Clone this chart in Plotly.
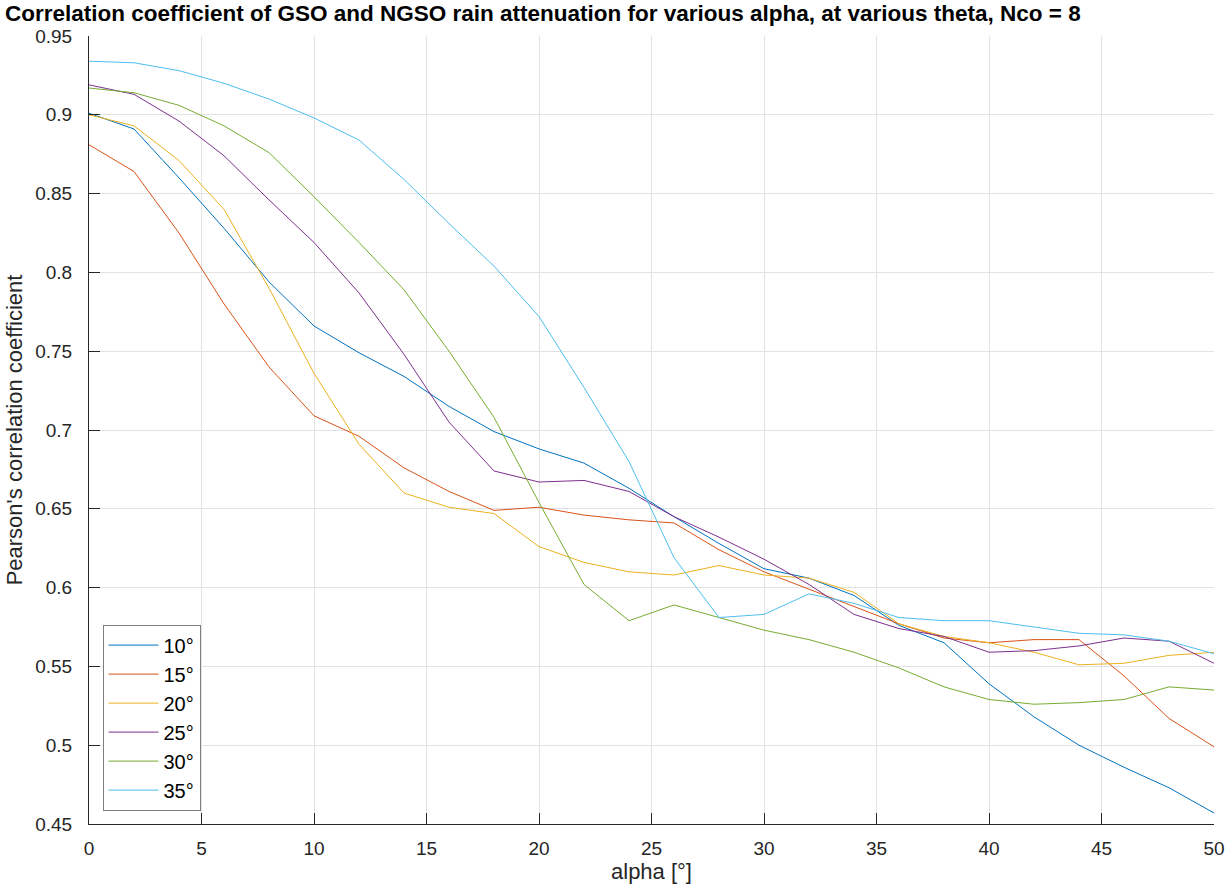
import plotly.graph_objects as go

alpha = list(range(0, 51, 2))

theta_labels = ["10°", "15°", "20°", "25°", "30°", "35°"]

rho_10 = [0.901, 0.891, 0.860, 0.828, 0.794, 0.766, 0.749, 0.734, 0.715, 0.699, 0.688, 0.679,
          0.663, 0.645, 0.628, 0.612, 0.606, 0.595, 0.576, 0.565, 0.539, 0.518, 0.500, 0.486,
          0.473, 0.457]
rho_15 = [0.881, 0.864, 0.825, 0.780, 0.740, 0.709, 0.696, 0.676, 0.661, 0.649, 0.651, 0.646,
          0.643, 0.641, 0.624, 0.610, 0.599, 0.588, 0.577, 0.568, 0.565, 0.567, 0.567, 0.544,
          0.517, 0.499]
rho_20 = [0.900, 0.893, 0.871, 0.840, 0.790, 0.736, 0.691, 0.660, 0.651, 0.647, 0.626, 0.616,
          0.610, 0.608, 0.614, 0.608, 0.606, 0.597, 0.577, 0.569, 0.565, 0.559, 0.551, 0.552,
          0.557, 0.559]
rho_25 = [0.919, 0.913, 0.896, 0.874, 0.846, 0.819, 0.787, 0.748, 0.705, 0.674, 0.667, 0.668,
          0.661, 0.645, 0.632, 0.618, 0.602, 0.583, 0.574, 0.569, 0.559, 0.560, 0.563, 0.568,
          0.566, 0.552]
rho_30 = [0.917, 0.914, 0.906, 0.893, 0.876, 0.848, 0.819, 0.789, 0.750, 0.708, 0.654, 0.602,
          0.579, 0.589, 0.581, 0.573, 0.567, 0.559, 0.549, 0.537, 0.529, 0.526, 0.527, 0.529,
          0.537, 0.535]
rho_35 = [0.934, 0.933, 0.928, 0.920, 0.910, 0.898, 0.884, 0.859, 0.831, 0.804, 0.772, 0.727,
          0.680, 0.619, 0.581, 0.583, 0.596, 0.590, 0.581, 0.579, 0.579, 0.575, 0.571, 0.570,
          0.566, 0.558]

series = [rho_10, rho_15, rho_20, rho_25, rho_30, rho_35]
colors = ["#0072BD", "#D95319", "#EDB120", "#7E2F8E", "#77AC30", "#4DBEEE"]

x_ticks = list(range(0, 51, 5))
y_ticks = [0.45, 0.5, 0.55, 0.6, 0.65, 0.7, 0.75, 0.8, 0.85, 0.9, 0.95]
y_ticktext = ["0.45", "0.5", "0.55", "0.6", "0.65", "0.7", "0.75", "0.8", "0.85", "0.9", "0.95"]

FONT = "Liberation Sans, Arial, Helvetica, sans-serif"

fig = go.Figure()
for name, ys, c in zip(theta_labels, series, colors):
    fig.add_trace(go.Scatter(x=alpha, y=ys, mode="lines", name=name,
                             line=dict(color=c, width=1)))

fig.update_layout(
    width=1227, height=889,
    margin=dict(l=89, r=13, t=36, b=65),
    plot_bgcolor="white", paper_bgcolor="white",
    font=dict(family=FONT, color="#262626", size=19),
    title=dict(text="<b>Correlation coefficient of GSO and NGSO rain attenuation for various alpha, at various theta, Nco = 8</b>",
               x=0.004, xanchor="left", xref="container", y=0.985, yanchor="middle",
               yref="container",
               font=dict(family=FONT, size=22.5, color="black")),
    legend=dict(x=0.012, y=0.017, xanchor="left", yanchor="bottom",
                bgcolor="white", bordercolor="#7f7f7f", borderwidth=1,
                font=dict(family=FONT, size=20, color="black"),
                tracegroupgap=0, itemwidth=50),
    showlegend=True,
)
fig.update_xaxes(range=[0, 50], tickvals=x_ticks, showgrid=True, gridcolor="#e3e3e3",
                 zeroline=False, showline=True, linecolor="#262626", linewidth=1,
                 ticks="inside", ticklen=11, tickcolor="#262626", mirror=False,
                 ticklabelstandoff=7, automargin=False,
                 title=dict(text="alpha [°]", font=dict(size=22), standoff=4),
                 tickfont=dict(size=19))
fig.update_yaxes(range=[0.45, 0.95], tickvals=y_ticks, ticktext=y_ticktext, showgrid=True,
                 gridcolor="#e3e3e3", zeroline=False, showline=True, linecolor="#262626",
                 linewidth=1, ticks="inside", ticklen=11, tickcolor="#262626", mirror=False,
                 ticklabelstandoff=12, automargin=False,
                 title=dict(text="Pearson's correlation coefficient", font=dict(size=22), standoff=6),
                 tickfont=dict(size=19))

fig.write_html("out.html")
